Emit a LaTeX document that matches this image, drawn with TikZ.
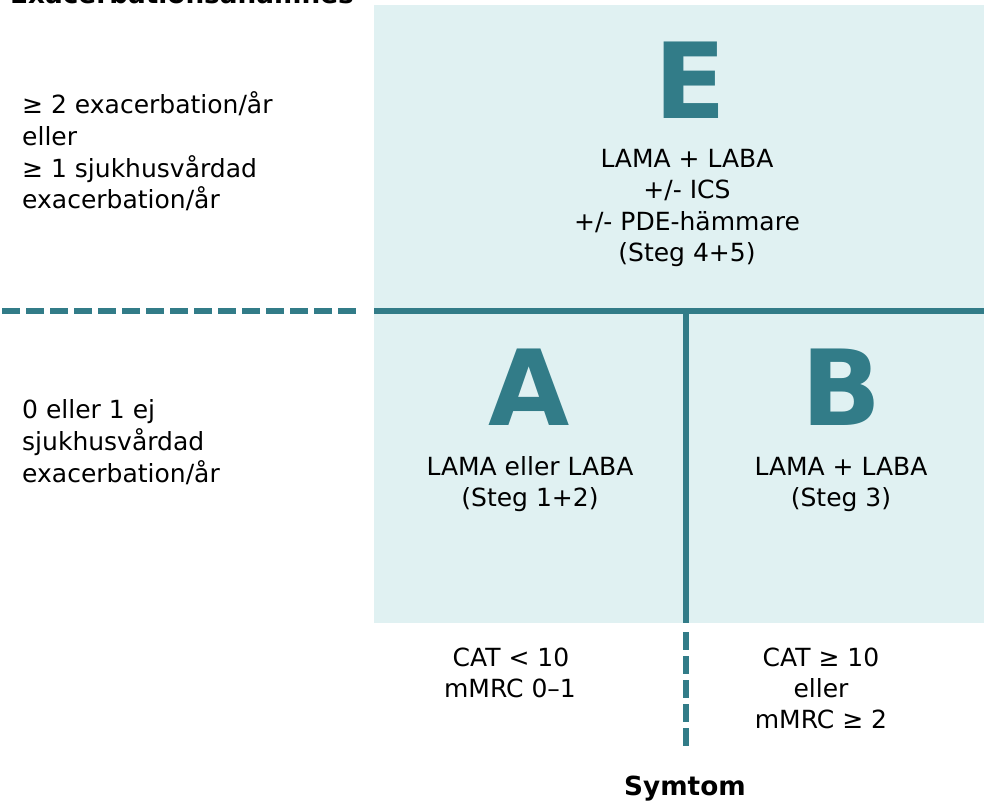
\documentclass[tikz,border=0pt]{standalone}
\usepackage{fontspec}
\setmainfont{DejaVu Sans}
\definecolor{tealc}{RGB}{50,124,136}
\definecolor{palec}{RGB}{224,241,242}
\tikzset{
  txt/.style={font=\fontsize{25}{30}\selectfont, inner sep=0pt, anchor=base},
  ltxt/.style={txt, anchor=base west},
  bigletter/.style={font=\fontsize{105}{110}\selectfont\bfseries, text=tealc, inner sep=0pt, anchor=base},
  ttl/.style={font=\fontsize{26.3}{30}\selectfont\bfseries, inner sep=0pt},
  solidline/.style={draw=tealc, line width=6pt},
  dashline/.style={draw=tealc, line width=6pt, dash pattern=on 18pt off 6pt},
}
\begin{document}
\begin{tikzpicture}[x=1pt, y=-1pt]
\useasboundingbox (0,0) rectangle (984,800);
\fill[palec] (374,5) rectangle (984,623);
% coordinates for lines
\coordinate (hd0) at (2,311);
\coordinate (hd1) at (357,311);
\coordinate (hs0) at (374,311);
\coordinate (hs1) at (984,311);
\coordinate (vs0) at (686,311);
\coordinate (vs1) at (686,623);
\coordinate (vd0) at (686,632);
\coordinate (vd1) at (686,746);
\draw[dashline] (hd0) -- (hd1);
\draw[solidline] (hs0) -- (hs1);
\draw[solidline] (vs0) -- (vs1);
\draw[dashline] (vd0) -- (vd1);
% title
\node[ttl, anchor=base west] (title) at (10,3.5) {Exacerbationsanamnes};
\node[ttl, anchor=base] (symtom) at (685,795) {Symtom};
% left labels
\node[ltxt] (u1) at (22,113) {≥ 2 exacerbation/år};
\node[ltxt] (u2) at (22,145) {eller};
\node[ltxt] (u3) at (22,177) {≥ 1 sjukhusvårdad};
\node[ltxt] (u4) at (22,208) {exacerbation/år};
\node[ltxt] (d1) at (22,418) {0 eller 1 ej};
\node[ltxt] (d2) at (22,450) {sjukhusvårdad};
\node[ltxt] (d3) at (22,482) {exacerbation/år};
% E
\node[bigletter] (E) at (690,118) {E};
\node[txt] (e1) at (687,167) {LAMA + LABA};
\node[txt] (e2) at (687,198.5) {+/- ICS};
\node[txt] (e3) at (687,230) {+/- PDE-hämmare};
\node[txt] (e4) at (687,261.5) {(Steg 4+5)};
% A
\node[bigletter] (A) at (529,425) {A};
\node[txt] (a1) at (530,475) {LAMA eller LABA};
\node[txt] (a2) at (530,506) {(Steg 1+2)};
% B
\node[bigletter] (B) at (842,425) {B};
\node[txt] (b1) at (841,475) {LAMA + LABA};
\node[txt] (b2) at (841,506) {(Steg 3)};
% bottom
\node[txt] (c1) at (511,666) {CAT < 10};
\node[txt] (c2) at (510,697) {mMRC 0–1};
\node[txt] (k1) at (821,666) {CAT ≥ 10};
\node[txt] (k2) at (821,697) {eller};
\node[txt] (k3) at (821,728) {mMRC ≥ 2};
\end{tikzpicture}
\end{document}
